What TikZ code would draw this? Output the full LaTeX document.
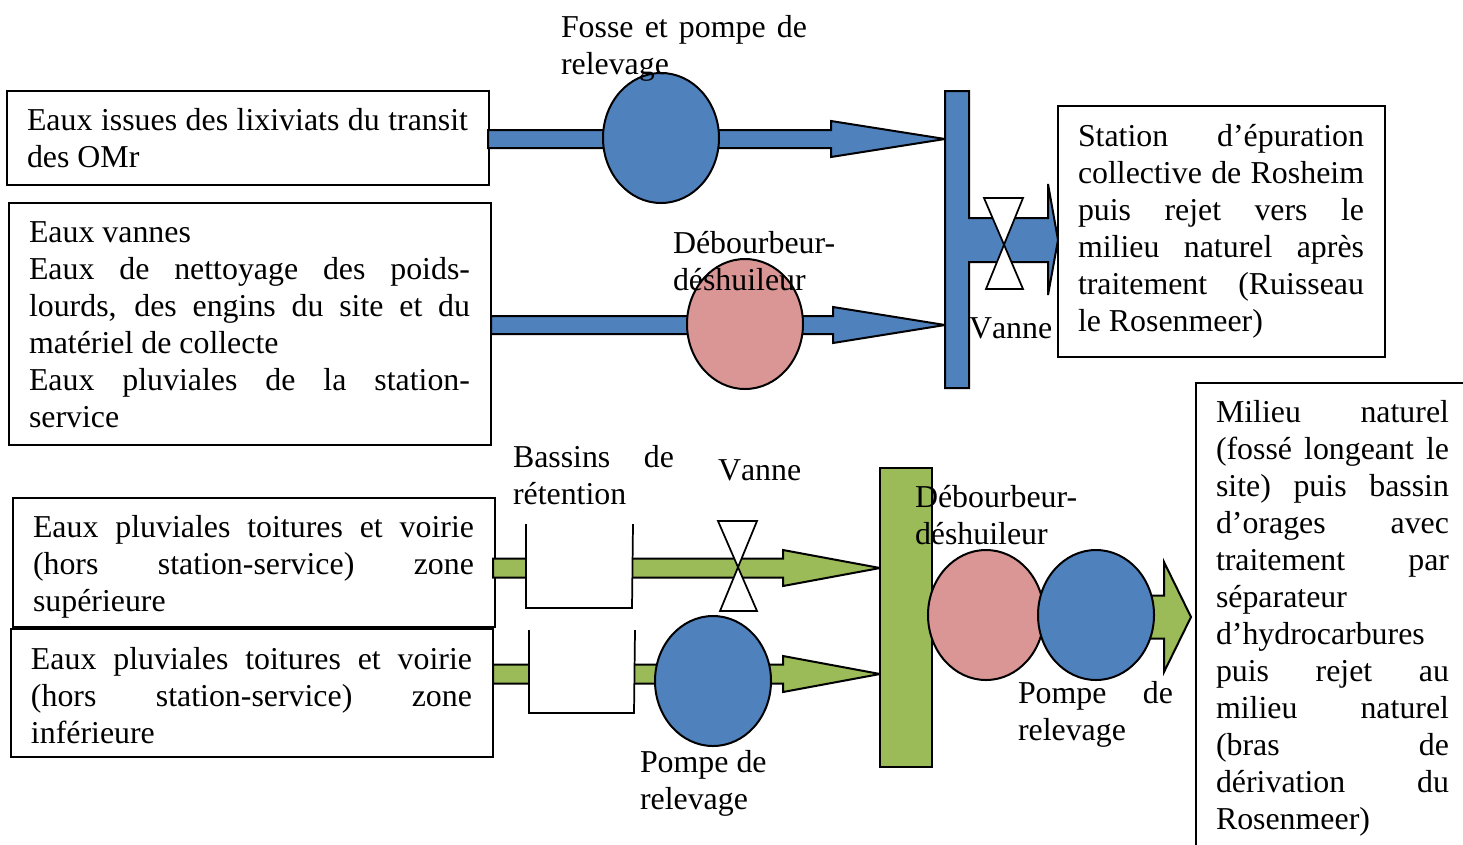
\documentclass[tikz,border=0pt]{standalone}
\usepackage{fontspec}
\setmainfont{Liberation Serif}
\definecolor{myblue}{HTML}{4F81BD}
\definecolor{mypink}{HTML}{D99694}
\definecolor{mygreen}{HTML}{9BBB59}
\newcommand\jl[1]{\makebox[\hsize][s]{#1}\par}
\newcommand\bkarrow[7]{% color, x start, y, x head, x tip, half shaft, half head
  \draw[shp,fill=#1] (#2,#3-#6) -- (#4,#3-#6) -- (#4,#3-#7) -- (#5,#3) -- (#4,#3+#7) -- (#4,#3+#6) -- (#2,#3+#6) -- cycle;}
\tikzset{
  x=0.75pt,y=-0.75pt,
  shp/.style={draw=black,line width=1.5pt,line join=miter},
  boxs/.style={draw=black,line width=1.5pt,fill=white},
  txt/.style={anchor=base west,inner sep=0pt,outer sep=0pt,font=\fontsize{23.9}{27.75}\selectfont,align=none},
  oval/.style={shp,ellipse,minimum width=87pt,minimum height=97.5pt,inner sep=0pt},
  vlv/.style={shp,fill=white,line width=1.3pt},
  tank/.style={draw=black,line width=1.3pt,fill=white}
}
\usetikzlibrary{shapes.geometric}
\begin{document}
\begin{tikzpicture}
\useasboundingbox (0,0) rectangle (1463,844);
\clip (0,0) rectangle (1463,844);
% boxes
\draw[boxs] (7,91) rectangle (489,185);
\draw[boxs] (9,203) rectangle (491,445);
\draw[boxs] (1058,106) rectangle (1385,357);
\draw[boxs] (1196,383) rectangle (1480,870);
\draw[boxs] (13,498) rectangle (495,627);
\draw[boxs] (11,629) rectangle (493,757);
% blue arrows
\bkarrow{myblue}{488}{139}{831}{945}{9}{18}
\bkarrow{myblue}{491}{325}{833}{945}{9}{18}
% blue collector with outlet
\draw[shp,fill=myblue] (945,91) -- (969,91) -- (969,218) -- (1048,218) -- (1048,184) -- (1058,240) -- (1048,295) -- (1048,262) -- (969,262) -- (969,388) -- (945,388) -- cycle;
\draw[vlv] (984,198) -- (1023,198) -- (986,289) -- (1023,289) -- cycle;
\node[oval,fill=myblue] (p1) at (661,138) {};
\node[oval,fill=mypink] (d1) at (745,324) {};
% green arrows
\bkarrow{mygreen}{493}{568}{783}{880}{9.5}{18}
\bkarrow{mygreen}{493}{674}{783}{880}{9.5}{18}
\draw[tank] (526,524) -- (526,608) -- (632,608) -- (633,524);
\draw[tank] (529,630) -- (529,713) -- (634,713) -- (635,630);
\draw[vlv] (718,521) -- (757,521) -- (720,611) -- (757,611) -- cycle;
\node[oval,fill=myblue] (p3) at (713,681) {};
\draw[shp,fill=mygreen] (880,468) rectangle (932,767);
\bkarrow{mygreen}{1145}{617}{1164}{1191}{21.5}{55}
\node[oval,fill=mypink] (d2) at (986,615) {};
\node[oval,fill=myblue] (p4) at (1096,615) {};
% texts
\node[txt,text width=330.75pt] (ta) at (27,130) {\jl{Eaux issues des lixiviats du transit}des OMr};
\node[txt,text width=330.75pt] (tb) at (29,242) {Eaux vannes\par\jl{Eaux de nettoyage des poids-}\jl{lourds, des engins du site et du}matériel de collecte\par\jl{Eaux pluviales de la station-}service};
\node[txt,text width=214.5pt] (tc) at (1078,146) {\jl{Station d’épuration}\jl{collective de Rosheim}\jl{puis rejet vers le}\jl{milieu naturel après}\jl{traitement (Ruisseau}le Rosenmeer)};
\node[txt,text width=174.75pt] (td) at (1216,422) {\jl{Milieu naturel}\jl{(fossé longeant le}\jl{site) puis bassin}\jl{d’orages avec}\jl{traitement par}séparateur\par d’hydrocarbures\par\jl{puis rejet au}\jl{milieu naturel}\jl{(bras de}\jl{dérivation du}Rosenmeer)};
\node[txt,text width=330.75pt] (te) at (33,537) {\jl{Eaux pluviales toitures et voirie}\jl{(hors station-service) zone}supérieure};
\node[txt,text width=330.75pt] (tf) at (31,669) {\jl{Eaux pluviales toitures et voirie}\jl{(hors station-service) zone}inférieure};
\node[txt,text width=184.5pt] (tg) at (561,37) {\jl{Fosse et pompe de}relevage};
\node[txt,text width=130pt] (th) at (673,253) {Débourbeur-\par déshuileur};
\node[txt] (ti) at (969,338) {V\kern0pt anne};
\node[txt,text width=120.75pt] (tj) at (513,467) {\jl{Bassins de}rétention};
\node[txt] (tk) at (718,480) {V\kern0pt anne};
\node[txt,text width=130pt] (tl) at (915,507) {Débourbeur-\par déshuileur};
\node[txt,text width=116.25pt] (tm) at (1018,703) {\jl{Pompe de}relevage};
\node[txt,text width=130pt] (tn) at (640,772) {Pompe de\par relevage};
\end{tikzpicture}
\end{document}
